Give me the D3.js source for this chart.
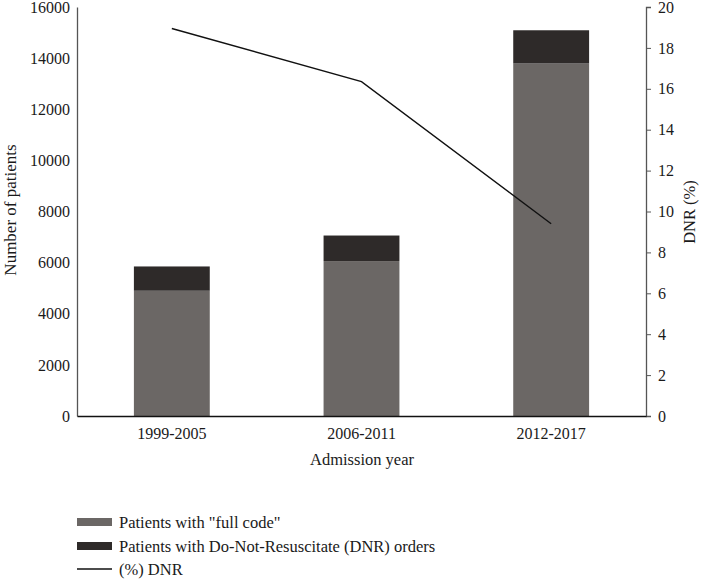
<!DOCTYPE html>
<html><head><meta charset="utf-8">
<script src="https://cdn.jsdelivr.net/npm/d3@7"></script>
<style>body{margin:0;background:#fff}svg{display:block}text{font-family:"Liberation Serif","DejaVu Serif",serif;fill:#1a1a1a}</style>
</head><body>
<svg id="c" width="703" height="580"></svg>
<script>
const categories = ["1999-2005", "2006-2011", "2012-2017"];
const fullCode = [4900, 6060, 13790];
const dnrOrders = [950, 1000, 1300];
const dnrPercent = [18.95, 16.35, 9.4];
const leftTicks = [0, 2000, 4000, 6000, 8000, 10000, 12000, 14000, 16000];
const rightTicks = [0, 2, 4, 6, 8, 10, 12, 14, 16, 18, 20];
const legendLabels = ['Patients with "full code"', 'Patients with Do-Not-Resuscitate (DNR) orders', '(%) DNR'];

const svg = d3.select("#c");
const L = 77, R = 646, T = 7, B = 416;
const FS = 16;
const x = d3.scaleBand().domain(categories).range([L, R]).paddingInner(0.6).paddingOuter(0.3);
const yL = d3.scaleLinear().domain([0, 16000]).range([B, T]);
const yR = d3.scaleLinear().domain([0, 20]).range([B, T]);
const cFull = "#6b6765", cDnr = "#2e2a29";

// bars
categories.forEach((c, i) => {
  svg.append("rect").attr("x", x(c)).attr("width", x.bandwidth())
    .attr("y", yL(fullCode[i])).attr("height", yL(0) - yL(fullCode[i])).attr("fill", cFull);
  svg.append("rect").attr("x", x(c)).attr("width", x.bandwidth())
    .attr("y", yL(fullCode[i] + dnrOrders[i])).attr("height", yL(fullCode[i]) - yL(fullCode[i] + dnrOrders[i])).attr("fill", cDnr);
});

// line
const line = d3.line().x((d, i) => x(categories[i]) + x.bandwidth() / 2).y(d => yR(d));
svg.append("path").datum(dnrPercent).attr("d", line).attr("fill", "none").attr("stroke", "#111").attr("stroke-width", 1.4);

// left axis
const gL = svg.append("g").attr("transform", `translate(${L},0)`)
  .call(d3.axisLeft(yL).tickValues(leftTicks).tickSize(0).tickPadding(7).tickFormat(d3.format("d")));
gL.select(".domain").attr("stroke", "#555").attr("stroke-width", 1.3);
gL.selectAll("text").attr("font-size", FS).style("font-family", '"Liberation Serif",serif').attr("fill", "#1a1a1a");

// right axis
const gR = svg.append("g").attr("transform", `translate(${R},0)`)
  .call(d3.axisRight(yR).tickValues(rightTicks).tickSize(5).tickPadding(7));
gR.select(".domain").attr("stroke", "#555").attr("stroke-width", 1.3);
gR.selectAll(".tick line").attr("stroke", "#555");
gR.selectAll("text").attr("font-size", FS).style("font-family", '"Liberation Serif",serif').attr("fill", "#1a1a1a");

// bottom axis
const gB = svg.append("g").attr("transform", `translate(0,${B})`)
  .call(d3.axisBottom(x).tickSize(0).tickPadding(12));
gB.select(".domain").attr("stroke", "#111").attr("stroke-width", 1.3);
gB.selectAll("text").attr("font-size", FS).style("font-family", '"Liberation Serif",serif').attr("fill", "#1a1a1a");

// titles
svg.append("text").attr("x", 362).attr("y", 465).attr("text-anchor", "middle").attr("font-size", 16.5).text("Admission year");
svg.append("text").attr("transform", "translate(16,210) rotate(-90)").attr("text-anchor", "middle").attr("font-size", 17).text("Number of patients");
svg.append("text").attr("transform", "translate(695,212) rotate(-90)").attr("text-anchor", "middle").attr("font-size", 16.5).text("DNR (%)");

// legend
const ly = [522, 546, 569];
svg.append("rect").attr("x", 77).attr("y", ly[0] - 4).attr("width", 35).attr("height", 8).attr("fill", cFull);
svg.append("rect").attr("x", 77).attr("y", ly[1] - 4).attr("width", 35).attr("height", 8).attr("fill", cDnr);
svg.append("line").attr("x1", 77).attr("x2", 112).attr("y1", ly[2]).attr("y2", ly[2]).attr("stroke", "#111").attr("stroke-width", 1.3);
legendLabels.forEach((t, i) => {
  svg.append("text").attr("x", 119).attr("y", ly[i]).attr("dy", "0.35em").attr("font-size", 16.5).text(t);
});
</script>
</body></html>
